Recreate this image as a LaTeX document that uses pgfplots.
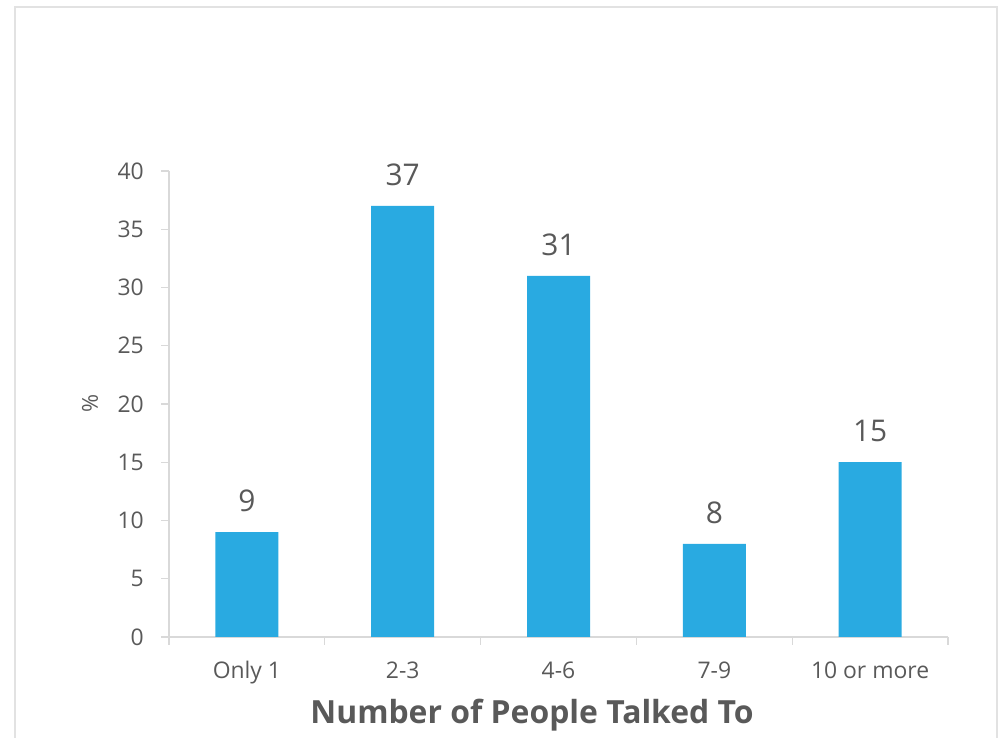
\documentclass[border=0pt]{standalone}
\usepackage{pgfplots}
\pgfplotsset{compat=1.18}
\usepackage{fontspec}
\setmainfont{Open Sans}
\definecolor{barblue}{HTML}{29AAE1}
\definecolor{txt}{HTML}{595959}
\definecolor{axgray}{HTML}{D9D9D9}
\definecolor{framegray}{HTML}{E2E2E2}
\begin{document}
\begin{tikzpicture}[x=1bp,y=1bp]
\useasboundingbox (0,0) rectangle (999,738);
\draw[framegray, line width=2bp] (15,-5) -- (15,731) -- (997,731) -- (997,-5);
\begin{axis}[
  at={(169bp,101bp)}, anchor=south west,
  scale only axis, width=779bp, height=466bp,
  xmin=-0.5, xmax=4.5, ymin=0, ymax=40,
  axis x line*=bottom, axis y line*=left,
  axis line style={axgray, line width=1.2bp, -},
  ytick={0,5,...,40},
  xtick={0,1,2,3,4},
  xticklabels={Only 1,2-3,4-6,7-9,10 or more},
  minor xtick={-0.5,0.5,1.5,2.5,3.5,4.5},
  major x tick style={draw=none},
  minor tick length=8bp, major tick length=8bp,
  tick align=outside,
  tick style={axgray, line width=1.2bp},
  /pgf/number format/assume math mode=true,
  ticklabel style={font=\fontsize{23}{27}\selectfont, text=txt},
  xticklabel style={anchor=base, inner sep=0pt, yshift=-34bp},
  yticklabel style={anchor=east, inner sep=0pt, xshift=-17bp},
  ybar, bar width=63bp,
  nodes near coords,
  every node near coord/.append style={font=\fontsize{30}{34}\selectfont, text=txt, anchor=south, inner sep=0pt, yshift=20bp},
  clip=false,
]
\addplot[fill=barblue, draw=none] coordinates {(0,9) (1,37) (2,31) (3,8) (4,15)};
\end{axis}
\node[rotate=90, text=txt, font=\fontsize{22}{26}\selectfont, inner sep=0pt] at (90,335) {\%};
\node[text=txt, font=\fontsize{32}{38}\bfseries\selectfont, anchor=base, inner sep=0pt] at (532,14) {Number of People Talked To};
\end{tikzpicture}
\end{document}
